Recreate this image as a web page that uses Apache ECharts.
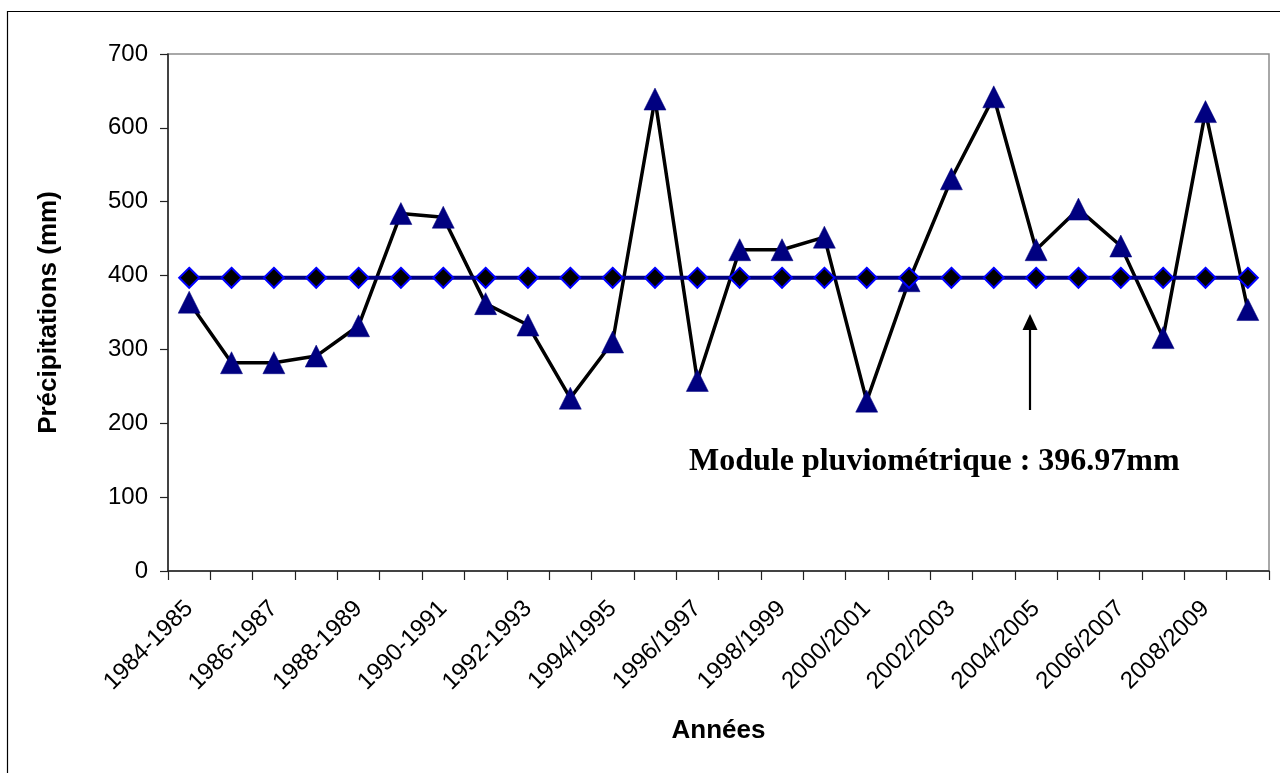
<!DOCTYPE html>
<html>
<head>
<meta charset="utf-8">
<script src="https://cdn.jsdelivr.net/npm/echarts@6/dist/echarts.min.js"></script>
<style>
html,body{margin:0;padding:0;background:#fff;}
#chart{width:1280px;height:773px;}
</style>
</head>
<body>
<div id="chart"></div>
<script>
const years = ['1984-1985','1985-1986','1986-1987','1987-1988','1988-1989','1989-1990','1990-1991','1991-1992','1992-1993','1993-1994','1994/1995','1995/1996','1996/1997','1997/1998','1998/1999','1999/2000','2000/2001','2001/2002','2002/2003','2003/2004','2004/2005','2005/2006','2006/2007','2007/2008','2008/2009','2009/2010'];
const precipitations = [364, 282, 282, 291, 332, 484, 479, 362, 333, 234, 310, 639, 258, 435, 435, 452, 230, 393, 531, 642, 435, 490, 440, 316, 622, 354];
const moduleLine = [396.97, 396.97, 396.97, 396.97, 396.97, 396.97, 396.97, 396.97, 396.97, 396.97, 396.97, 396.97, 396.97, 396.97, 396.97, 396.97, 396.97, 396.97, 396.97, 396.97, 396.97, 396.97, 396.97, 396.97, 396.97, 396.97];
const yTicks = {min: 0, max: 700, interval: 100};
const annotationText = 'Module pluviométrique : 396.97mm';

const sans = "'Liberation Sans', Arial, sans-serif";
const serif = "'Liberation Serif', 'Times New Roman', serif";

const chart = echarts.init(document.getElementById('chart'), null, {renderer: 'canvas'});
chart.setOption({
  animation: false,
  backgroundColor: '#fff',
  grid: {left: 168, right: 11, top: 54, bottom: 202, show: true, borderColor: '#8c8c8c', borderWidth: 1.5},
  xAxis: {
    type: 'category',
    data: years,
    boundaryGap: true,
    name: 'Années',
    nameLocation: 'middle',
    nameGap: 147,
    nameTextStyle: {fontFamily: sans, fontWeight: 'bold', fontSize: 26, color: '#000'},
    axisLine: {lineStyle: {color: '#222', width: 1.5}},
    axisTick: {show: true, interval: 0, length: 9, lineStyle: {color: '#222', width: 1.2}},
    axisLabel: {interval: 1, rotate: 45, margin: 34, fontFamily: sans, fontSize: 24, color: '#000'},
    splitLine: {show: false}
  },
  yAxis: {
    type: 'value',
    min: yTicks.min, max: yTicks.max, interval: yTicks.interval,
    name: 'Précipitations (mm)',
    nameLocation: 'middle',
    nameGap: 106,
    nameTextStyle: {fontFamily: sans, fontWeight: 'bold', fontSize: 26, color: '#000'},
    axisLine: {show: true, lineStyle: {color: '#222', width: 1.5}},
    axisTick: {show: true, length: 8, lineStyle: {color: '#222', width: 1.2}},
    axisLabel: {margin: 20, fontFamily: sans, fontSize: 24, color: '#000'},
    splitLine: {show: false}
  },
  series: [
    {
      name: 'Précipitations',
      type: 'line',
      data: precipitations,
      symbol: 'triangle',
      symbolSize: 22,
      lineStyle: {color: '#000', width: 3.5},
      itemStyle: {color: '#000080', borderColor: '#000080', borderWidth: 0.5},
      z: 2
    },
    {
      name: 'Module',
      type: 'line',
      data: moduleLine,
      symbol: 'diamond',
      symbolSize: 20,
      lineStyle: {color: '#000080', width: 4},
      itemStyle: {color: '#000', borderColor: '#0000ff', borderWidth: 2},
      z: 3
    }
  ],
  graphic: [
    {type: 'rect', shape: {x: 7.5, y: 11.5, width: 1400, height: 900}, style: {fill: null, stroke: '#000', lineWidth: 1.2}, z: 100, silent: true},
    {type: 'text', left: 689, top: 446, style: {text: annotationText, font: 'bold 32px ' + serif, fill: '#000'}, z: 100},
    {type: 'line', shape: {x1: 1030, y1: 410, x2: 1030, y2: 326}, style: {stroke: '#000', lineWidth: 2.2}, z: 100},
    {type: 'polygon', shape: {points: [[1030, 314], [1022.5, 330], [1037.5, 330]]}, style: {fill: '#000'}, z: 100}
  ]
});
</script>
</body>
</html>
